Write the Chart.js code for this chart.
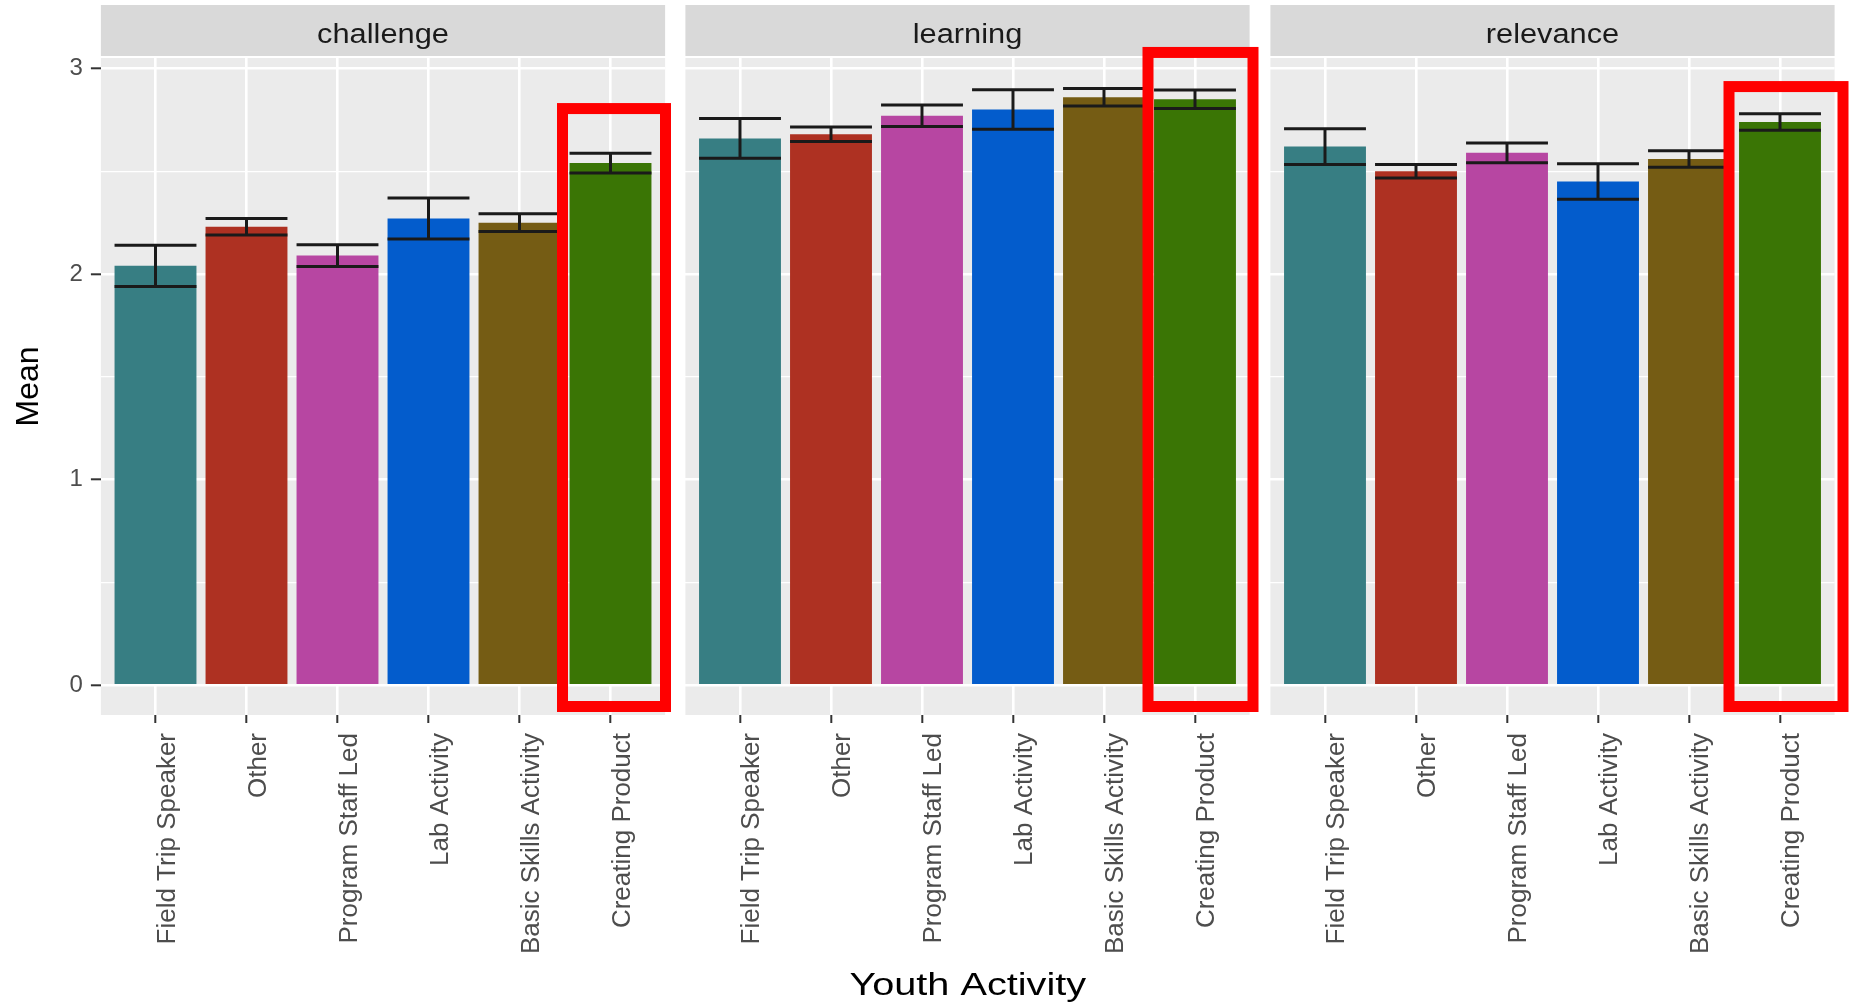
<!DOCTYPE html>
<html>
<head>
<meta charset="utf-8">
<title>Youth Activity means</title>
<script src="https://cdn.jsdelivr.net/npm/chart.js@4.4.1/dist/chart.umd.min.js"></script>
<style>
  html, body { margin: 0; padding: 0; background: #ffffff; }
  #wrap { position: relative; width: 1852px; height: 1007px; }
  #wrap canvas { position: absolute; left: 0; top: 0; }
</style>
</head>
<body>
<div id="wrap">
  <canvas id="panel0" width="1852" height="1007"></canvas>
  <canvas id="panel1" width="1852" height="1007"></canvas>
  <canvas id="panel2" width="1852" height="1007"></canvas>
</div>
<script>
var activities = ['Field Trip Speaker', 'Other', 'Program Staff Led', 'Lab Activity', 'Basic Skills Activity', 'Creating Product'];
var facets = ['challenge', 'learning', 'relevance'];
var yTickValues = [0, 0.5, 1, 1.5, 2, 2.5, 3];

// mean and standard error per activity, one pair per facet
var challengeMean = [2.04, 2.23, 2.09, 2.27, 2.25, 2.54];
var challengeSE   = [0.10, 0.04, 0.053, 0.10, 0.043, 0.048];
var learningMean  = [2.66, 2.68, 2.77, 2.80, 2.86, 2.85];
var learningSE    = [0.097, 0.035, 0.052, 0.096, 0.043, 0.045];
var relevanceMean = [2.62, 2.50, 2.59, 2.45, 2.56, 2.74];
var relevanceSE   = [0.087, 0.033, 0.048, 0.086, 0.04, 0.04];

var activityColors = ['#377E83', '#AE3122', '#B746A2', '#035CCC', '#755C14', '#3A7505'];

var means = [challengeMean, learningMean, relevanceMean];
var errors = [challengeSE, learningSE, relevanceSE];

var FONT = '"Liberation Sans", Arial, Helvetica, sans-serif';
var W = 1852, H = 1007;
var panelLeft = [100.9, 685.4, 1270.4];
var panelWidth = 564.2;
var panelTop = 58, panelBottom = 715;

// red outline around the last bar of each facet
var highlight = [
  { top: 2.805, left: -48, right: 55 },
  { top: 3.078, left: -47, right: 58 },
  { top: 2.912, left: -51, right: 63 }
];

function stretchedText(ctx, text, x, y, font, sx) {
  ctx.save();
  ctx.font = font;
  ctx.textAlign = 'center';
  ctx.textBaseline = 'alphabetic';
  ctx.translate(x, y);
  ctx.scale(sx, 1);
  ctx.fillText(text, 0, 0);
  ctx.restore();
}

var facetPlugin = {
  id: 'facet',
  beforeDraw: function (chart, args, opts) {
    var ctx = chart.ctx, a = chart.chartArea;
    ctx.save();
    ctx.fillStyle = '#EBEBEB';
    ctx.fillRect(a.left, a.top, a.right - a.left, a.bottom - a.top);
    ctx.fillStyle = '#D9D9D9';
    ctx.fillRect(a.left, 5, a.right - a.left, 51);
    ctx.fillStyle = '#1A1A1A';
    stretchedText(ctx, opts.label, (a.left + a.right) / 2, 43, '27px ' + FONT, 1.14);
    ctx.restore();
  },
  afterDatasetsDraw: function (chart, args, opts) {
    var ctx = chart.ctx, ys = chart.scales.y;
    var bars = chart.getDatasetMeta(0).data;
    var m = means[opts.index], se = errors[opts.index];
    ctx.save();
    ctx.strokeStyle = '#1A1A1A';
    ctx.lineWidth = 3;
    for (var i = 0; i < m.length; i++) {
      var x = bars[i].x, hw = bars[i].width / 2;
      var top = ys.getPixelForValue(m[i] + se[i]);
      var bot = ys.getPixelForValue(m[i] - se[i]);
      ctx.beginPath();
      ctx.moveTo(x - hw, top); ctx.lineTo(x + hw, top);
      ctx.moveTo(x, top); ctx.lineTo(x, bot);
      ctx.moveTo(x - hw, bot); ctx.lineTo(x + hw, bot);
      ctx.stroke();
    }
    ctx.restore();
  },
  afterDraw: function (chart, args, opts) {
    var ctx = chart.ctx, a = chart.chartArea, ys = chart.scales.y;
    var bars = chart.getDatasetMeta(0).data;
    var h = highlight[opts.index];
    var cx = bars[bars.length - 1].x;
    var top = ys.getPixelForValue(h.top);
    var bottom = a.bottom - 8.5;
    ctx.save();
    ctx.strokeStyle = '#FF0000';
    ctx.lineWidth = 11;
    ctx.lineJoin = 'miter';
    ctx.strokeRect(cx + h.left, top, h.right - h.left, bottom - top);
    if (opts.xTitle) {
      ctx.fillStyle = '#000000';
      stretchedText(ctx, opts.xTitle, (panelLeft[0] + panelLeft[2] + panelWidth) / 2, 995, '31px ' + FONT, 1.28);
    }
    ctx.restore();
  }
};

function makePanel(k) {
  var first = k === 0;
  var ctx = document.getElementById('panel' + k).getContext('2d');
  var points = means[k].map(function (v, i) { return { x: i + 1, y: v }; });
  return new Chart(ctx, {
    type: 'bar',
    data: {
      datasets: [{
        data: points,
        backgroundColor: activityColors,
        borderWidth: 0,
        barPercentage: 0.9,
        categoryPercentage: 1.0
      }]
    },
    plugins: [facetPlugin],
    options: {
      responsive: false,
      animation: false,
      layout: {
        padding: {
          left: first ? 0 : panelLeft[k],
          right: W - panelLeft[k] - panelWidth,
          top: panelTop,
          bottom: 0
        }
      },
      plugins: {
        legend: { display: false },
        tooltip: { enabled: false },
        facet: { index: k, label: facets[k], xTitle: k === 1 ? 'Youth Activity' : null }
      },
      scales: {
        x: {
          type: 'linear',
          offset: false,
          min: 0.4,
          max: 6.6,
          afterBuildTicks: function (s) {
            s.ticks = activities.map(function (c, i) { return { value: i + 1 }; });
          },
          afterFit: function (s) { s.height = H - panelBottom; },
          border: { display: false },
          grid: { offset: false, color: '#FFFFFF', lineWidth: 2.6, tickLength: 8, tickColor: '#333333', tickWidth: 2 },
          ticks: {
            autoSkip: false,
            minRotation: 90,
            maxRotation: 90,
            padding: 10,
            labelOffset: 12,
            color: '#4D4D4D',
            font: { family: FONT, size: 26 },
            callback: function (v, i) { return activities[i]; }
          }
        },
        y: {
          min: -0.145,
          max: 3.051,
          afterBuildTicks: function (s) {
            s.ticks = yTickValues.map(function (v) { return { value: v }; });
          },
          afterFit: function (s) { s.width = first ? panelLeft[0] : 0; },
          border: { display: false },
          grid: {
            color: '#FFFFFF',
            lineWidth: function (c) { return c.tick && c.tick.value % 1 === 0 ? 2.6 : 1.3; },
            drawTicks: first,
            tickLength: 10,
            tickWidth: 2,
            tickColor: function (c) { return c.tick && c.tick.value % 1 === 0 ? '#333333' : 'rgba(0,0,0,0)'; }
          },
          ticks: {
            display: first,
            padding: 8,
            color: '#4D4D4D',
            font: { family: FONT, size: 24 },
            callback: function (v) { return v % 1 === 0 ? String(v) : ''; }
          },
          title: {
            display: first,
            text: 'Mean',
            color: '#000000',
            font: { family: FONT, size: 32 },
            padding: { top: 10, bottom: 0 }
          }
        }
      }
    }
  });
}

for (var k = 0; k < facets.length; k++) makePanel(k);
</script>
</body>
</html>
